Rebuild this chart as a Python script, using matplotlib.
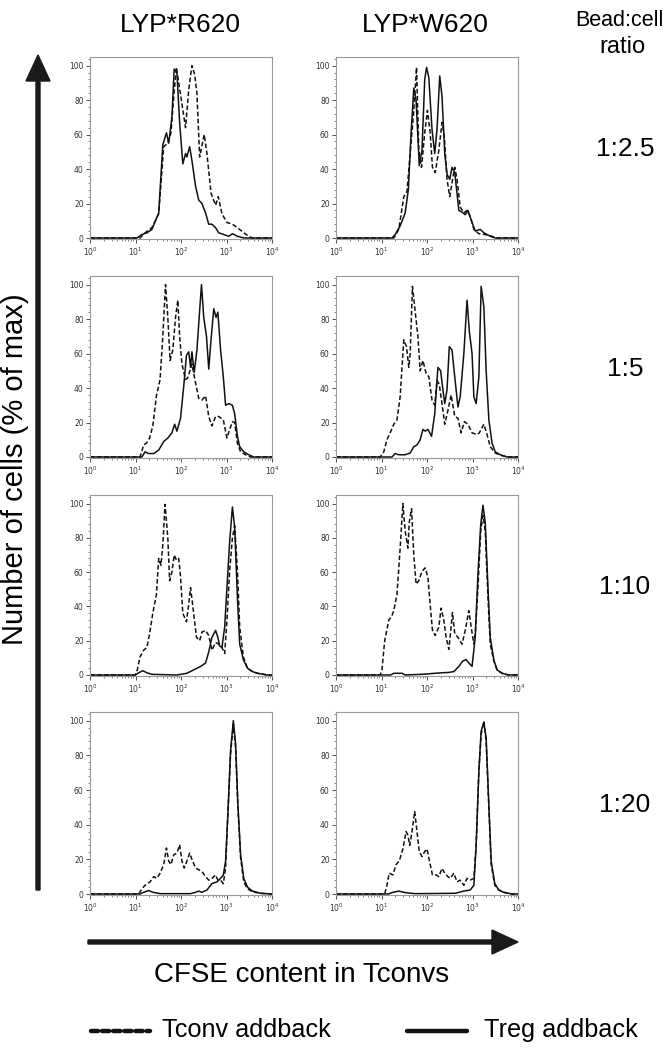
import numpy as np
import matplotlib
matplotlib.use("Agg")
import matplotlib.pyplot as plt
from matplotlib.patches import FancyArrow
from matplotlib.lines import Line2D
from matplotlib.ticker import MultipleLocator, LogLocator, NullFormatter

# histogram traces: (log10 CFSE, % of max)
r620_25_tconv = [(0, 0), (1.10, 0), (1.21, 3), (1.36, 6), (1.51, 14), (1.62, 53), (1.71, 55), (1.78, 61),
                 (1.84, 82), (1.90, 99), (1.95, 90), (2.02, 78), (2.10, 64), (2.17, 86), (2.24, 100),
                 (2.30, 95), (2.35, 84), (2.41, 47), (2.51, 60), (2.57, 49), (2.66, 26), (2.76, 19),
                 (2.82, 24), (2.90, 14), (3.01, 9), (3.13, 8), (3.24, 6), (3.38, 3), (3.49, 1), (3.57, 0), (4, 0)]
r620_25_treg = [(0, 0), (1.03, 0), (1.14, 2), (1.25, 3), (1.36, 5), (1.51, 14.5), (1.60, 54), (1.68, 61),
                (1.73, 55), (1.80, 70), (1.85, 98), (1.91, 96), (1.97, 67), (2.04, 43), (2.10, 49), (2.13, 47),
                (2.19, 53), (2.24, 45), (2.32, 30), (2.39, 22), (2.46, 20), (2.54, 14.5), (2.61, 8), (2.68, 8),
                (2.76, 6), (2.83, 3), (2.94, 2), (3.05, 1), (3.13, 2.5), (3.24, 1), (3.38, 0), (4, 0)]

w620_25_tconv = [(0, 0), (1.27, 0), (1.38, 5), (1.49, 24), (1.56, 27), (1.63, 49), (1.71, 74), (1.77, 99),
                 (1.82, 51), (1.88, 41), (1.95, 61), (2.01, 74), (2.07, 61), (2.12, 41), (2.18, 38), (2.26, 51),
                 (2.33, 67), (2.38, 59), (2.44, 34), (2.50, 24), (2.55, 32), (2.61, 41), (2.66, 34), (2.73, 18),
                 (2.81, 14.5), (2.88, 16), (2.95, 12.5), (3.03, 5), (3.14, 2.5), (3.28, 2), (3.43, 1), (3.54, 0), (4, 0)]
w620_25_treg = [(0, 0), (1.23, 0), (1.30, 2), (1.41, 7), (1.52, 14.5), (1.59, 28), (1.65, 61), (1.71, 87),
                (1.76, 80), (1.83, 42), (1.89, 51), (1.95, 92), (1.99, 99), (2.04, 93), (2.11, 63), (2.17, 49),
                (2.22, 63), (2.28, 94), (2.33, 82), (2.39, 49), (2.44, 37), (2.50, 34), (2.55, 41), (2.61, 38),
                (2.70, 16), (2.77, 15), (2.84, 13.5), (2.90, 16), (2.97, 10.6), (3.06, 4), (3.17, 5), (3.25, 3),
                (3.39, 1), (3.50, 0), (4, 0)]

r620_5_tconv = [(0, 0), (1.10, 0), (1.18, 7), (1.24, 8), (1.31, 11), (1.38, 18), (1.46, 35.5), (1.54, 45),
                (1.60, 70), (1.66, 100), (1.71, 81), (1.76, 56), (1.82, 62), (1.88, 81), (1.93, 91), (1.97, 70),
                (2.02, 54), (2.10, 45), (2.15, 46), (2.24, 54), (2.32, 43), (2.39, 34), (2.46, 33), (2.54, 35.5),
                (2.61, 23.5), (2.68, 18), (2.76, 23.5), (2.83, 23.5), (2.93, 21.5), (3.01, 11), (3.07, 16),
                (3.13, 20.5), (3.18, 20), (3.24, 8), (3.31, 3), (3.42, 1.3), (3.53, 0), (4, 0)]
r620_5_treg = [(0, 0), (1.14, 0), (1.21, 3), (1.29, 2), (1.40, 2), (1.51, 4), (1.62, 9), (1.71, 11), (1.80, 14),
               (1.86, 19), (1.91, 15), (1.99, 22.5), (2.06, 41), (2.12, 59), (2.17, 61), (2.21, 52), (2.24, 61),
               (2.29, 49), (2.35, 62), (2.41, 85), (2.45, 100), (2.50, 81), (2.56, 70), (2.61, 51), (2.66, 68),
               (2.72, 86), (2.77, 81), (2.81, 84), (2.87, 62), (2.93, 46.5), (2.98, 30), (3.05, 31), (3.13, 30),
               (3.18, 25), (3.24, 12), (3.29, 6), (3.38, 3), (3.49, 1.3), (3.60, 0), (4, 0)]

w620_5_tconv = [(0, 0), (0.97, 0), (1.05, 3), (1.12, 10), (1.19, 14), (1.27, 19), (1.34, 21.5), (1.41, 35),
                (1.49, 68), (1.55, 64), (1.60, 52), (1.63, 60), (1.68, 99), (1.73, 87), (1.80, 70), (1.85, 50),
                (1.91, 56), (1.98, 48.5), (2.04, 46.5), (2.11, 33), (2.17, 30), (2.22, 44.6), (2.27, 42),
                (2.33, 31), (2.39, 19), (2.46, 27), (2.53, 36), (2.61, 23.5), (2.68, 22.5), (2.75, 14),
                (2.82, 20.5), (2.90, 19), (2.99, 14), (3.10, 13), (3.15, 14), (3.25, 19), (3.32, 13), (3.39, 6),
                (3.50, 2.3), (3.65, 0.8), (3.79, 0), (4, 0)]
w620_5_treg = [(0, 0), (1.23, 0), (1.30, 2), (1.38, 1.3), (1.52, 1.3), (1.63, 2.3), (1.71, 6), (1.78, 7),
               (1.85, 10), (1.91, 16), (1.96, 15), (2.02, 16), (2.10, 12), (2.17, 25), (2.24, 52), (2.30, 50),
               (2.34, 41), (2.39, 31), (2.44, 39), (2.49, 64), (2.55, 62), (2.61, 46.5), (2.68, 29), (2.73, 35),
               (2.81, 60), (2.88, 91), (2.93, 73), (2.99, 60), (3.03, 35), (3.08, 31), (3.14, 46.5), (3.19, 99),
               (3.25, 87), (3.30, 50), (3.36, 21.5), (3.43, 8), (3.50, 3), (3.61, 1.3), (3.76, 0), (4, 0)]

r620_10_tconv = [(0, 0), (0.99, 0), (1.04, 3), (1.10, 10.6), (1.18, 14.5), (1.25, 16), (1.31, 24), (1.38, 36),
                 (1.46, 47), (1.51, 68), (1.56, 64), (1.60, 76), (1.65, 99.5), (1.71, 80), (1.75, 55), (1.80, 60),
                 (1.85, 70), (1.90, 67), (1.95, 68), (1.99, 57), (2.04, 36), (2.12, 31), (2.17, 41.5), (2.21, 51),
                 (2.26, 40), (2.34, 22), (2.41, 20), (2.46, 25), (2.54, 26), (2.61, 23), (2.68, 14.5), (2.76, 19),
                 (2.83, 18), (2.90, 16), (2.96, 12.5), (3.01, 32), (3.07, 61), (3.13, 80), (3.18, 87), (3.24, 61),
                 (3.29, 28), (3.37, 10.6), (3.46, 4), (3.57, 2), (3.68, 1), (3.90, 0), (4, 0)]
r620_10_treg = [(0, 0), (0.99, 0), (1.07, 1.3), (1.16, 2.5), (1.25, 1.3), (1.36, 0.4), (1.91, 0), (2.13, 1),
                (2.28, 3), (2.43, 5), (2.54, 7), (2.61, 13.5), (2.68, 22), (2.76, 26), (2.81, 22), (2.85, 17),
                (2.90, 16), (2.96, 28), (3.01, 51), (3.07, 78), (3.13, 98), (3.18, 86), (3.24, 45), (3.29, 18),
                (3.37, 9), (3.46, 4), (3.57, 2), (3.68, 1), (3.90, 0), (4, 0)]

w620_10_tconv = [(0, 0), (0.97, 0), (1.01, 3), (1.07, 20), (1.16, 32), (1.22, 34), (1.27, 37.5), (1.34, 47),
                 (1.41, 74), (1.47, 100), (1.52, 84), (1.58, 74), (1.61, 89), (1.66, 97), (1.71, 70), (1.76, 53),
                 (1.82, 55), (1.89, 60.5), (1.96, 62.5), (2.02, 57), (2.07, 41), (2.12, 26), (2.18, 23),
                 (2.26, 28), (2.31, 39), (2.37, 32), (2.42, 22), (2.48, 15), (2.53, 28), (2.56, 36.5), (2.61, 24),
                 (2.68, 22), (2.77, 18), (2.84, 26), (2.92, 37.5), (2.97, 28), (3.03, 18), (3.06, 24), (3.12, 51),
                 (3.18, 84), (3.23, 93), (3.28, 84), (3.34, 45), (3.39, 18), (3.47, 8), (3.54, 3), (3.65, 1),
                 (3.79, 0), (4, 0)]
w620_10_treg = [(0, 0), (1.20, 0), (1.27, 1), (1.45, 1), (1.52, 0), (1.89, 0.4), (2.18, 1), (2.33, 1.3),
                (2.48, 1.5), (2.59, 2), (2.70, 5), (2.78, 8), (2.86, 9), (2.92, 7), (2.99, 5), (3.06, 22),
                (3.12, 59), (3.18, 87.5), (3.23, 99), (3.28, 89), (3.34, 51), (3.39, 22), (3.47, 8.7), (3.54, 3),
                (3.65, 1), (3.79, 0), (4, 0)]

r620_20_tconv = [(0, 0), (1.07, 0), (1.14, 3), (1.21, 5), (1.32, 7), (1.40, 10), (1.47, 9), (1.54, 12),
                 (1.62, 17), (1.68, 26.5), (1.73, 19), (1.78, 17), (1.84, 22.6), (1.91, 23.6), (1.97, 28.4),
                 (2.02, 19), (2.07, 15), (2.13, 19), (2.19, 23.6), (2.24, 20), (2.32, 15), (2.39, 14), (2.46, 13),
                 (2.54, 10), (2.61, 8), (2.68, 9), (2.76, 11), (2.81, 8), (2.87, 8), (2.93, 6), (2.98, 15),
                 (3.03, 46), (3.09, 81), (3.15, 98), (3.20, 84.5), (3.25, 50), (3.31, 21), (3.38, 7), (3.46, 3),
                 (3.57, 1.3), (3.75, 0.4), (4, 0)]
r620_20_treg = [(0, 0), (1.10, 0), (1.18, 1), (1.29, 2), (1.38, 1), (1.54, 0.2), (2.21, 0.2), (2.32, 1),
                (2.39, 1.7), (2.46, 1), (2.57, 2.3), (2.68, 6), (2.79, 7), (2.87, 9), (2.93, 11), (2.98, 19),
                (3.03, 46), (3.09, 83), (3.15, 100), (3.20, 86.5), (3.25, 52), (3.31, 22.6), (3.38, 9), (3.46, 4),
                (3.57, 1.7), (3.75, 0.4), (4, 0)]

w620_20_tconv = [(0, 0), (1.07, 0), (1.12, 5), (1.17, 12), (1.25, 11), (1.32, 17), (1.39, 19), (1.47, 26),
                 (1.54, 36), (1.58, 34), (1.62, 28), (1.67, 36), (1.73, 47.6), (1.78, 36), (1.83, 24.5),
                 (1.89, 21.6), (1.95, 24.5), (2.00, 26), (2.05, 19.6), (2.12, 11), (2.20, 11), (2.26, 10),
                 (2.33, 14.8), (2.39, 12), (2.46, 10), (2.51, 9), (2.59, 12), (2.66, 7), (2.73, 8), (2.81, 5),
                 (2.88, 9), (2.95, 8), (3.03, 9), (3.08, 28), (3.14, 71), (3.19, 92), (3.25, 99.6), (3.30, 88),
                 (3.36, 49.5), (3.41, 17), (3.49, 5), (3.58, 2.3), (3.68, 1), (3.87, 0), (4, 0)]
w620_20_treg = [(0, 0), (1.15, 0), (1.23, 0.8), (1.38, 1.7), (1.52, 0.8), (1.74, 0.2), (2.62, 0.4), (2.81, 1.7),
                (2.95, 2.3), (3.03, 5), (3.08, 28), (3.14, 71), (3.19, 94), (3.25, 99), (3.30, 90), (3.36, 51),
                (3.41, 19), (3.49, 6), (3.58, 2.3), (3.68, 1), (3.87, 0), (4, 0)]

columns = ["LYP*R620", "LYP*W620"]
ratios = ["1:2.5", "1:5", "1:10", "1:20"]
panels = [
    [(r620_25_tconv, r620_25_treg), (w620_25_tconv, w620_25_treg)],
    [(r620_5_tconv, r620_5_treg), (w620_5_tconv, w620_5_treg)],
    [(r620_10_tconv, r620_10_treg), (w620_10_tconv, w620_10_treg)],
    [(r620_20_tconv, r620_20_treg), (w620_20_tconv, w620_20_treg)],
]

FONT = "Liberation Sans"
big = dict(family=FONT, size=19)

W, H = 665, 1050
fig = plt.figure(figsize=(W / 100, H / 100), dpi=100)


def fx(x):
    return x / W


def fy(y):
    return 1 - y / H


col_left = [90, 336]
ax_w = 182
row_top = [57, 276, 495, 712]
row_base = [238, 457, 675, 894]
ylo, yhi = -0.8, 105

for r in range(4):
    for c in range(2):
        top, base = row_top[r], row_base[r]
        px_per = (base - top) / 105.0
        bottom = base + 0.8 * px_per
        ax = fig.add_axes([fx(col_left[c]), fy(bottom), ax_w / W, (bottom - top) / H])
        tconv, treg = panels[r][c]
        tx, ty = np.array(tconv).T
        gx, gy = np.array(treg).T
        ax.plot(10 ** tx, ty, color="#111111", lw=1.1, dashes=(3, 1.6))
        ax.plot(10 ** gx, gy, color="#111111", lw=1.1)
        ax.set_xscale("log")
        ax.set_xlim(1, 1e4)
        ax.set_ylim(ylo, yhi)
        ax.set_yticks([0, 20, 40, 60, 80, 100])
        ax.yaxis.set_minor_locator(MultipleLocator(4))
        ax.xaxis.set_major_locator(LogLocator(base=10, numticks=6))
        ax.xaxis.set_minor_locator(LogLocator(base=10, subs=np.arange(2, 10), numticks=12))
        ax.xaxis.set_minor_formatter(NullFormatter())
        ax.tick_params(which="major", length=3, width=0.6, labelsize=5.5, colors="#333333", pad=1.5)
        ax.tick_params(which="minor", length=1.5, width=0.5, colors="#555555")
        for s in ax.spines.values():
            s.set_color("#999999")
            s.set_linewidth(0.8)

# column titles and ratio labels
fig.text(fx(180), fy(25), columns[0], ha="center", va="center", **big)
fig.text(fx(425), fy(25), columns[1], ha="center", va="center", **big)
fig.text(fx(619), fy(21), "Bead:cell", ha="center", va="center", family=FONT, size=15.5)
fig.text(fx(622), fy(47), "ratio", ha="center", va="center", family=FONT, size=17)
for r, lab in enumerate(ratios):
    fig.text(fx(625), fy((row_top[r] + row_base[r]) / 2 + 2), lab, ha="center", va="center", **big)

# axis arrows (drawn in inches so heads keep their shape)
tr = fig.dpi_scale_trans
fig.add_artist(FancyArrow(38 / 100, (H - 890) / 100, 0, (890 - 55) / 100, width=0.04, head_width=0.24,
                          head_length=0.26, length_includes_head=True, color="#1a1a1a", transform=tr))
fig.add_artist(FancyArrow(88 / 100, (H - 942) / 100, (518 - 88) / 100, 0, width=0.04, head_width=0.24,
                          head_length=0.26, length_includes_head=True, color="#1a1a1a", transform=tr))

fig.text(fx(15), fy(469), "Number of cells (% of max)", rotation=90, ha="center", va="center",
         family=FONT, size=21)
fig.text(fx(302), fy(975), "CFSE content in Tconvs", ha="center", va="center", family=FONT, size=20)

# legend
fig.add_artist(Line2D([fx(91), fx(150)], [fy(1031), fy(1031)], color="#111111", lw=3.2,
                      dashes=(1.6, 0.9), dash_capstyle="round"))
fig.text(fx(162), fy(1030), "Tconv addback", ha="left", va="center", family=FONT, size=18.2)
fig.add_artist(Line2D([fx(407), fx(467)], [fy(1031), fy(1031)], color="#111111", lw=3.2,
                      solid_capstyle="round"))
fig.text(fx(484), fy(1030), "Treg addback", ha="left", va="center", family=FONT, size=18.2)

fig.savefig("out.png", dpi=100)
